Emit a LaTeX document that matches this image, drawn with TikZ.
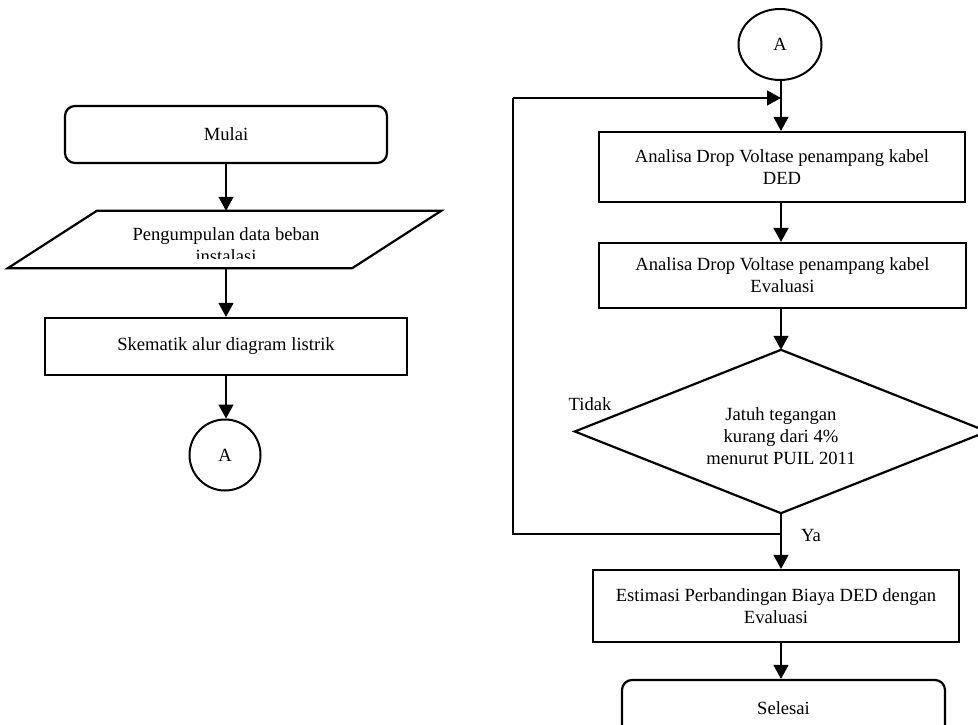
\documentclass[tikz,border=0pt]{standalone}
\usepackage{fontspec}
\setmainfont{Liberation Serif}
\usetikzlibrary{arrows.meta,shapes.geometric}
\begin{document}
\begin{tikzpicture}[x=1pt,y=-1pt,
  every node/.style={font=\fontsize{18.6}{22}\selectfont, inner sep=0pt},
  conn/.style={line width=1.3pt},
  arr/.style={conn, -{Triangle[length=14pt,width=15pt]}},
  term/.style={draw, line width=2.2pt, rounded corners=10pt, minimum height=57pt, align=center},
  proc/.style={draw, line width=2.2pt, align=center},
  conncirc/.style={draw, line width=2pt, ellipse, minimum width=#1, minimum height=71pt},
  outline/.style={line width=2.2pt, line join=miter}
]
\clip (0,0) rectangle (978,725);
\fill[white] (0,0) rectangle (978,725);

% ---------- left column ----------
\node[term, minimum width=322pt] (mulai) at (226,134.5) {Mulai};

\node[minimum width=344pt, minimum height=57pt] (pg) at (224.5,239.5) {};
\draw[outline] ([xshift=44.5pt]pg.north west) -- ([xshift=44.5pt]pg.north east)
  -- ([xshift=-44.5pt]pg.south east) -- ([xshift=-44.5pt]pg.south west) -- cycle;
\begin{scope}
  \clip (100,213) rectangle (400,258);
  \node[align=center] (pgtext) at (226,245) {Pengumpulan data beban\\instalasi};
\end{scope}

\node[proc, minimum width=362pt, minimum height=57pt] (skem) at (226,346.5) {Skematik alur diagram listrik};

\node[conncirc=71pt] (ca) at (225,455) {A};

\draw[arr] (mulai.south) -- (mulai.south |- pg.north);
\draw[arr] (pg.south -| mulai.south) -- (mulai.south |- skem.north);
\draw[arr] (skem.south -| mulai.south) -- (mulai.south |- ca.north);

% ---------- right column ----------
\node[conncirc=83pt] (cb) at (780,44.5) {A};

\node[proc, minimum width=366pt, minimum height=70pt] (b1) at (782,167)
  {Analisa Drop Voltase penampang kabel\\DED};
\node[proc, minimum width=367pt, minimum height=65pt] (b2) at (782.5,275.5)
  {Analisa Drop Voltase penampang kabel\\Evaluasi};

\node[minimum width=412pt, minimum height=163pt] (dec) at (781,431.5) {};
\draw[outline] (dec.north) -- (dec.east) -- (dec.south) -- (dec.west) -- cycle;
\node[align=center] (dectext) at (781,436) {Jatuh tegangan\\kurang dari 4\%\\menurut PUIL 2011};

\node (tidak) at (590,404) {Tidak};
\node (ya) at (811,535) {Ya};

\node[proc, minimum width=366pt, minimum height=72pt] (est) at (776,606)
  {Estimasi Perbandingan Biaya DED dengan\\Evaluasi};
\node[term, minimum width=323pt] (sel) at (783.5,708.5) {Selesai};

\coordinate (jn) at (781,98);
\coordinate (lt) at (513,98);
\coordinate (lb) at (513,534);
\coordinate (sp) at (781,534);

\draw[arr] (cb.south -| jn) -- (jn |- b1.north);
\draw[arr] (b1.south -| jn) -- (jn |- b2.north);
\draw[arr] (b2.south -| jn) -- (dec.north);
\draw[arr] (dec.south) -- (dec.south |- est.north);
\draw[conn] (sp) -- (lb) -- (lt);
\draw[arr] (lt) -- (jn);
\draw[arr] (est.south -| jn) -- (jn |- sel.north);
\end{tikzpicture}
\end{document}
